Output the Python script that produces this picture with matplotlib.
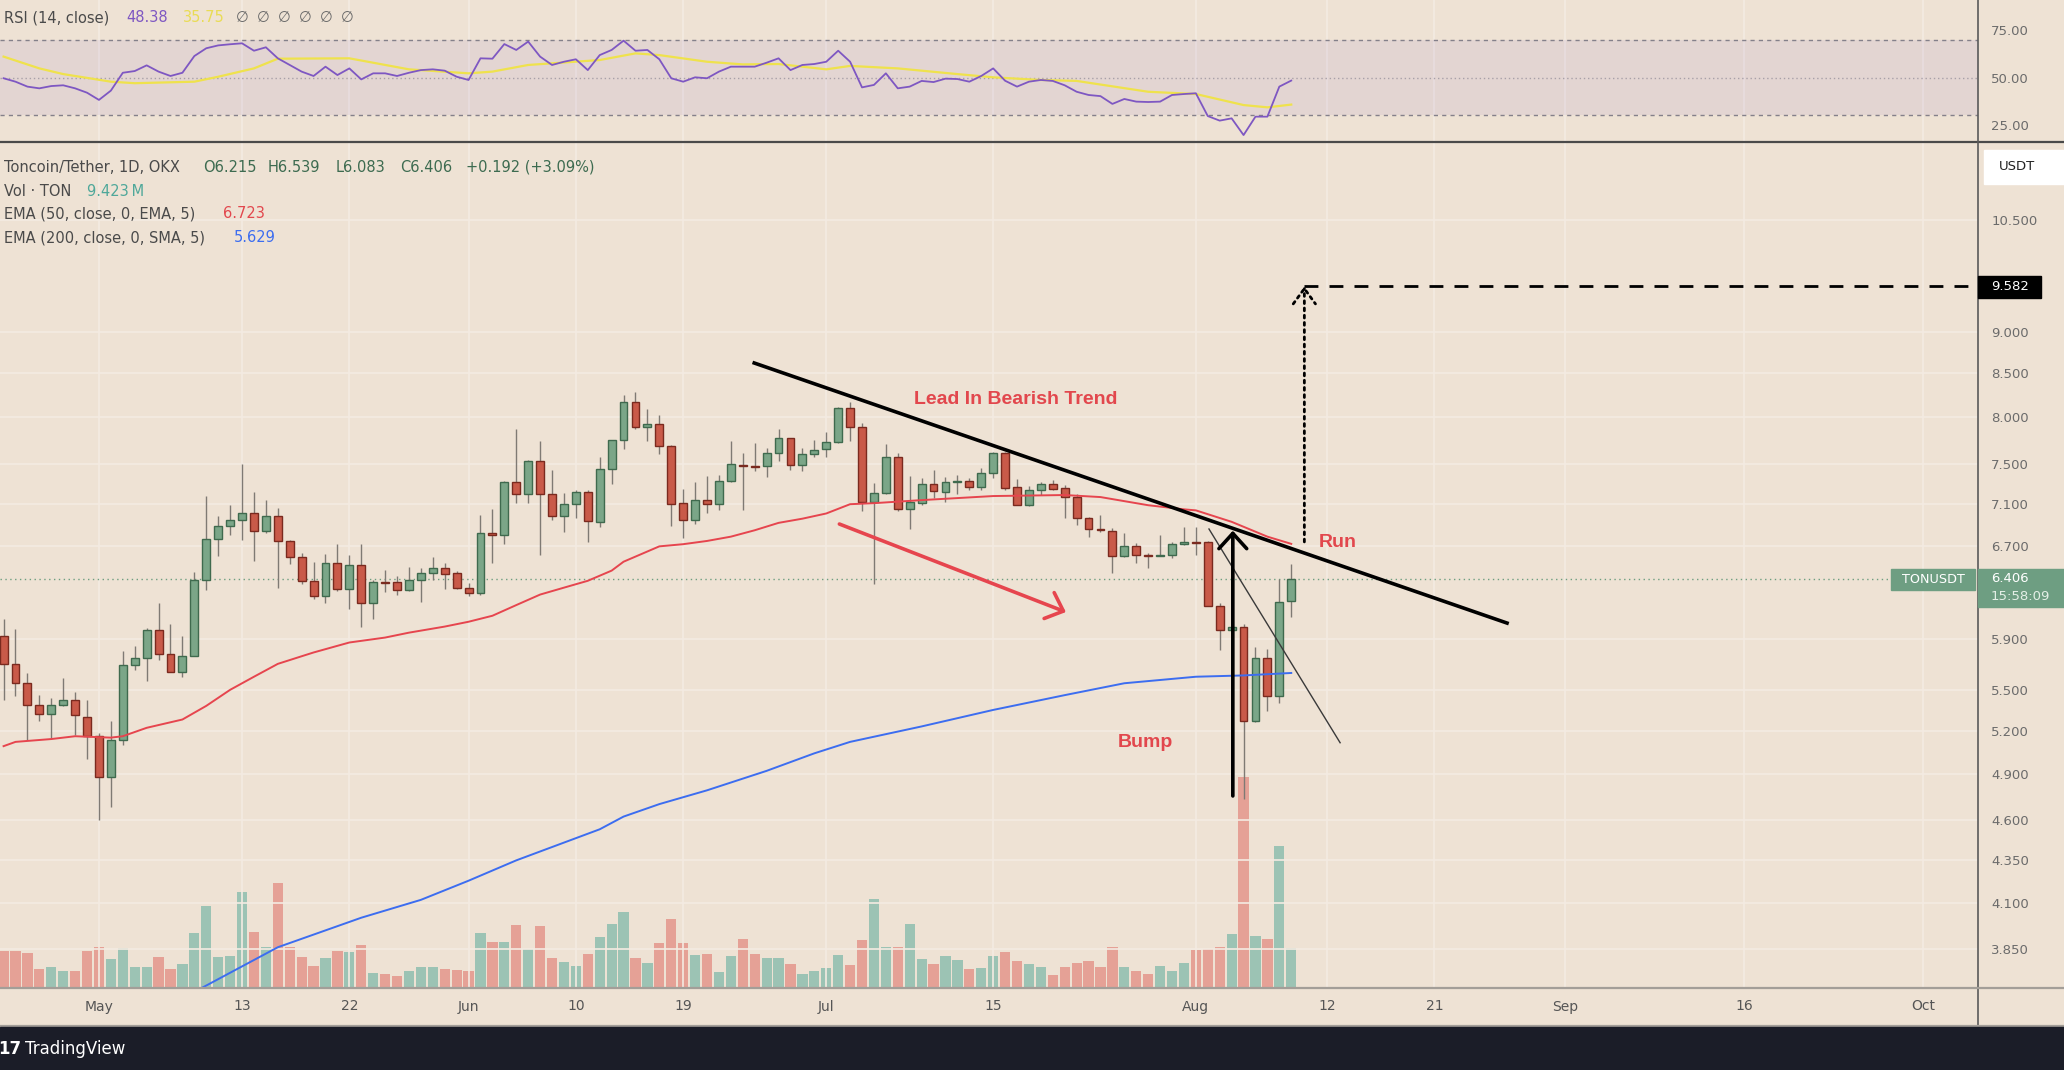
import numpy as np
import pandas as pd
import matplotlib
matplotlib.use("Agg")
import matplotlib.pyplot as plt
import matplotlib.dates as mdates
from matplotlib.patches import Rectangle
from matplotlib.lines import Line2D
from matplotlib.ticker import NullLocator

# ---------------- data ----------------
dates = pd.date_range("2024-04-23", periods=109, freq="D")

opens = [5.92, 5.70, 5.55, 5.39, 5.32, 5.39, 5.42, 5.30, 5.16, 4.88,
         5.13, 5.69, 5.75, 5.97, 5.78, 5.64, 5.76, 6.40, 6.77, 6.89,
         6.95, 7.01, 6.84, 6.99, 6.75, 6.60, 6.39, 6.26, 6.55, 6.32,
         6.53, 6.20, 6.38, 6.38, 6.31, 6.40, 6.46, 6.50, 6.46, 6.33,
         6.28, 6.82, 6.81, 7.32, 7.20, 7.53, 7.20, 6.99, 7.10, 7.22,
         6.93, 7.45, 7.76, 8.17, 7.90, 7.93, 7.69, 7.11, 6.95, 7.14,
         7.10, 7.33, 7.49, 7.48, 7.48, 7.62, 7.78, 7.49, 7.61, 7.66,
         7.73, 8.11, 7.90, 7.12, 7.21, 7.58, 7.05, 7.11, 7.30, 7.22,
         7.32, 7.33, 7.27, 7.41, 7.62, 7.27, 7.09, 7.24, 7.30, 7.26,
         7.17, 6.97, 6.86, 6.84, 6.61, 6.70, 6.62, 6.61, 6.62, 6.72,
         6.74, 6.74, 6.17, 5.97, 6.00, 5.27, 5.75, 5.45, 6.215]
highs = [6.06, 5.98, 5.63, 5.46, 5.44, 5.59, 5.48, 5.42, 5.18, 5.27,
         5.80, 5.84, 5.99, 6.20, 6.02, 5.92, 6.47, 7.18, 6.99, 7.09,
         7.50, 7.22, 7.14, 7.06, 6.76, 6.64, 6.56, 6.63, 6.72, 6.62,
         6.72, 6.40, 6.49, 6.43, 6.51, 6.50, 6.60, 6.55, 6.48, 6.37,
         7.00, 7.05, 7.33, 7.87, 7.55, 7.75, 7.44, 7.21, 7.24, 7.24,
         7.58, 7.76, 8.25, 8.28, 8.09, 8.03, 7.70, 7.25, 7.32, 7.38,
         7.39, 7.75, 7.62, 7.72, 7.67, 7.87, 7.78, 7.67, 7.76, 7.84,
         8.12, 8.17, 7.94, 7.31, 7.71, 7.62, 7.38, 7.36, 7.44, 7.37,
         7.39, 7.36, 7.46, 7.63, 7.63, 7.35, 7.28, 7.32, 7.34, 7.29,
         7.20, 6.98, 7.00, 6.87, 6.82, 6.73, 6.64, 6.81, 6.74, 6.88,
         6.88, 6.75, 6.20, 6.20, 6.02, 5.83, 5.82, 6.41, 6.539]
lows = [5.42, 5.45, 5.13, 5.27, 5.15, 5.38, 5.17, 5.00, 4.60, 4.68,
        5.10, 5.65, 5.57, 5.73, 5.64, 5.60, 5.76, 6.31, 6.61, 6.81,
        6.76, 6.57, 6.82, 6.33, 6.54, 6.36, 6.23, 6.20, 6.30, 6.15,
        6.00, 6.06, 6.29, 6.27, 6.30, 6.21, 6.40, 6.32, 6.32, 6.26,
        6.27, 6.55, 6.72, 7.11, 7.11, 6.62, 6.95, 6.83, 6.97, 6.74,
        6.88, 7.30, 7.66, 7.87, 7.74, 7.61, 6.89, 6.78, 6.91, 7.01,
        7.04, 7.32, 7.04, 7.43, 7.37, 7.53, 7.44, 7.43, 7.58, 7.58,
        7.72, 7.75, 7.03, 6.36, 7.20, 7.03, 6.86, 7.09, 7.16, 7.12,
        7.20, 7.24, 7.24, 7.36, 7.24, 7.09, 7.08, 7.19, 7.24, 6.97,
        6.90, 6.79, 6.83, 6.46, 6.60, 6.55, 6.50, 6.61, 6.59, 6.71,
        6.62, 6.17, 5.81, 5.76, 4.73, 5.26, 5.34, 5.40, 6.083]
closes = [5.70, 5.55, 5.39, 5.32, 5.39, 5.42, 5.31, 5.16, 4.88, 5.13,
          5.69, 5.75, 5.97, 5.78, 5.64, 5.76, 6.40, 6.77, 6.89, 6.95,
          7.01, 6.84, 6.99, 6.75, 6.60, 6.39, 6.26, 6.55, 6.32, 6.53,
          6.20, 6.38, 6.37, 6.31, 6.40, 6.46, 6.50, 6.45, 6.33, 6.28,
          6.82, 6.81, 7.32, 7.20, 7.53, 7.20, 6.99, 7.10, 7.22, 6.94,
          7.45, 7.76, 8.17, 7.90, 7.93, 7.69, 7.10, 6.95, 7.14, 7.10,
          7.33, 7.50, 7.48, 7.47, 7.62, 7.78, 7.49, 7.61, 7.65, 7.73,
          8.11, 7.90, 7.12, 7.21, 7.58, 7.05, 7.12, 7.30, 7.23, 7.32,
          7.33, 7.27, 7.41, 7.62, 7.26, 7.09, 7.24, 7.30, 7.25, 7.17,
          6.97, 6.86, 6.85, 6.61, 6.70, 6.62, 6.61, 6.62, 6.72, 6.74,
          6.73, 6.17, 5.97, 6.00, 5.27, 5.75, 5.45, 6.21, 6.406]
volumes = [8.78, 8.78, 8.30, 4.43, 4.91, 3.79, 3.79, 8.78, 9.75, 6.85,
           9.42, 4.75, 4.75, 7.17, 4.43, 5.64, 12.97, 19.49, 7.33, 7.57,
           23.03, 13.37, 9.58, 25.13, 9.58, 7.17, 5.15, 7.01, 8.78, 8.54,
           10.23, 3.46, 3.06, 2.74, 3.95, 4.75, 4.91, 4.43, 4.19, 3.79,
           12.97, 10.79, 10.95, 15.06, 9.26, 14.82, 7.01, 6.12, 5.15, 7.89,
           12.16, 15.22, 18.20, 7.01, 5.88, 10.55, 16.51, 10.71, 7.81, 7.97,
           3.62, 7.57, 11.68, 8.05, 7.01, 7.01, 5.56, 3.22, 3.95, 4.59,
           7.81, 5.40, 11.44, 21.34, 9.75, 9.75, 15.22, 6.85, 5.64, 7.57,
           6.60, 4.43, 4.59, 7.57, 8.54, 6.36, 5.48, 4.75, 2.90, 4.91,
           5.88, 6.36, 4.91, 9.66, 4.75, 3.79, 3.06, 5.15, 3.95, 5.88,
           8.86, 9.26, 9.75, 12.73, 50.7, 12.40, 11.68, 34.1, 9.423]
rsi = [49.6, 47.8, 45.2, 44.3, 45.5, 45.9, 44.3, 42.0, 38.2, 43.1,
       52.5, 53.4, 56.4, 53.1, 50.8, 52.5, 61.3, 65.4, 66.9, 67.5,
       68.0, 64.1, 65.9, 60.1, 56.6, 53.1, 50.8, 55.7, 51.3, 54.8,
       49.0, 52.2, 52.2, 50.8, 52.5, 53.9, 54.3, 53.6, 50.4, 48.7,
       60.1, 59.9, 67.6, 64.5, 68.9, 61.0, 56.6, 58.3, 59.6, 53.9,
       61.8, 64.5, 69.4, 64.1, 64.5, 59.6, 49.6, 47.8, 50.1, 49.6,
       53.1, 55.7, 55.7, 55.7, 57.8, 60.1, 53.9, 56.6, 57.1, 58.3,
       64.1, 58.3, 44.8, 46.1, 52.2, 44.3, 45.2, 48.2, 47.6, 49.4,
       49.2, 47.8, 50.8, 54.8, 48.3, 45.2, 47.8, 48.7, 48.2, 45.9,
       42.5, 40.8, 40.2, 36.1, 38.7, 37.3, 37.1, 37.3, 40.8, 41.3,
       41.7, 29.7, 27.3, 28.5, 19.7, 29.4, 29.4, 45.2, 48.38]
rsi_sma_day = [0, 3, 5, 9, 11, 16, 18, 21, 23, 29, 34, 39, 41, 44, 50, 53,
               55, 59, 62, 65, 69, 71, 75, 80, 83, 87, 90, 96, 100, 104, 106, 108]
rsi_sma = [61.0, 54.8, 51.8, 47.8, 47.0, 47.8, 50.4, 54.8, 59.9, 60.1, 54.3,
           52.2, 53.1, 56.6, 59.2, 62.7, 61.8, 58.3, 56.9, 57.1, 54.3, 56.1,
           54.8, 51.8, 50.1, 48.7, 48.2, 42.5, 41.3, 35.5, 34.3, 35.75]
ema50_day = [0, 1, 4, 6, 9, 10, 12, 15, 17, 19, 21, 23, 25, 26, 29, 32, 34, 37,
             39, 41, 43, 45, 47, 49, 51, 52, 55, 57, 59, 61, 63, 65, 67, 69, 71,
             73, 77, 83, 89, 92, 96, 99, 100, 103, 106, 108]
ema50 = [5.09, 5.12, 5.14, 5.16, 5.15, 5.16, 5.22, 5.28, 5.38, 5.50, 5.60,
         5.70, 5.76, 5.79, 5.87, 5.91, 5.95, 6.00, 6.04, 6.09, 6.18, 6.27,
         6.33, 6.39, 6.48, 6.56, 6.70, 6.72, 6.75, 6.79, 6.85, 6.92, 6.96,
         7.01, 7.10, 7.11, 7.14, 7.18, 7.19, 7.17, 7.09, 7.05, 7.04, 6.93,
         6.79, 6.723]
ema200_day = [16, 23, 30, 35, 39, 43, 50, 52, 55, 59, 64, 68, 71, 77, 83, 89,
              94, 100, 104, 108]
ema200 = [3.63, 3.86, 4.02, 4.12, 4.23, 4.35, 4.54, 4.62, 4.70, 4.79, 4.92,
          5.04, 5.12, 5.23, 5.35, 5.46, 5.55, 5.60, 5.61, 5.629]

price_ticks = [10.5, 9.0, 8.5, 8.0, 7.5, 7.1, 6.7, 5.9, 5.5, 5.2, 4.9, 4.6, 4.35, 4.1, 3.85]
price_labels = ["10.500", "9.000", "8.500", "8.000", "7.500", "7.100", "6.700", "5.900",
                "5.500", "5.200", "4.900", "4.600", "4.350", "4.100", "3.850"]
rsi_ticks = [75, 50, 25]
rsi_labels = ["75.00", "50.00", "25.00"]
date_ticks = ["2024-05-01", "2024-05-13", "2024-05-22", "2024-06-01", "2024-06-10",
              "2024-06-19", "2024-07-01", "2024-07-15", "2024-08-01", "2024-08-12",
              "2024-08-21", "2024-09-01", "2024-09-16", "2024-10-01"]
date_labels = ["May", "13", "22", "Jun", "10", "19", "Jul", "15", "Aug", "12", "21",
               "Sep", "16", "Oct"]
target_price = 9.582

# ---------------- style ----------------
W, H = 2064, 1070
BG = "#EEE2D4"
GRID = "#F4EBE2"
G_BODY, G_EDGE = "#7BA688", "#3F6A4E"
R_BODY, R_EDGE = "#C95A49", "#7A2A1F"
V_UP, V_DN = "#9CC3B4", "#E5A196"
RED_TXT = "#E2474D"
AXCOL = "#6B6B6B"

fig = plt.figure(figsize=(W / 100, H / 100), dpi=100, facecolor=BG)
AXW = 1978 / W
rsi_ax = fig.add_axes([0, 1 - 142 / H, AXW, 142 / H])
vol_ax = fig.add_axes([0, 83 / H, AXW, 845 / H])
ax = fig.add_axes([0, 83 / H, AXW, 845 / H], sharex=vol_ax)

xs = mdates.date2num(dates)
x0 = xs[0]
xlim = (x0 - 0.30, x0 + 165.6)
o = np.array(opens); h = np.array(highs); l = np.array(lows); c = np.array(closes)
up = c >= o

# volume
vol_ax.set_facecolor(BG)
vol_ax.bar(xs, volumes, width=0.86, color=np.where(up, V_UP, V_DN), zorder=2)
vol_ax.set_ylim(0, 204.2)
vol_ax.set_yticks([])
vol_ax.tick_params(axis="x", labelbottom=False, length=0)
for s in vol_ax.spines.values():
    s.set_visible(False)

# price pane
ax.patch.set_visible(False)
ax.set_yscale("log")
ax.set_ylim(3.6546, 11.685)
ax.set_xlim(*xlim)
for s in ax.spines.values():
    s.set_visible(False)
ax.yaxis.tick_right()
ax.set_yticks(price_ticks)
ax.set_yticklabels(price_labels)
ax.yaxis.set_minor_locator(NullLocator())
ax.tick_params(axis="y", length=0, pad=9.5, labelsize=9.5, labelcolor=AXCOL)
ax.set_xticks(mdates.date2num(pd.to_datetime(date_ticks)))
ax.set_xticklabels(date_labels)
ax.tick_params(axis="x", length=0, pad=9, labelsize=10, labelcolor="#555555")
ax.grid(axis="y", color=GRID, lw=1.2, zorder=0)
ax.grid(axis="x", color=GRID, lw=1.2, zorder=0)
ax.set_axisbelow(True)

ax.vlines(xs, l, h, color="#7F7A74", lw=1.0, zorder=2)
ax.bar(xs, np.maximum(np.abs(c - o), 0.008), bottom=np.minimum(o, c), width=0.66,
       color=np.where(up, G_BODY, R_BODY), edgecolor=np.where(up, G_EDGE, R_EDGE),
       linewidth=1.0, zorder=3)
ax.plot(x0 + np.array(ema50_day), ema50, color="#E6454E", lw=1.4, zorder=4)
ax.plot(x0 + np.array(ema200_day), ema200, color="#3C6DF0", lw=1.4, zorder=4)
ax.axhline(c[-1], color="#6E9E80", lw=1.0, ls=(0, (1, 2.5)), zorder=1)

# drawings
ax.plot([x0 + 62.96, x0 + 126.1], [8.622, 6.029], color="black", lw=2.6, zorder=6)
ax.plot([x0 + 101.1, x0 + 112.1], [6.862, 5.114], color="#3a3a3a", lw=1.0, zorder=6)
ax.annotate("", xy=(x0 + 89.1, 6.121), xytext=(x0 + 70.1, 6.909),
            arrowprops=dict(arrowstyle="->,head_length=0.55,head_width=0.5", color="#E6454E",
                            lw=2.6, mutation_scale=20, shrinkA=0, shrinkB=0), zorder=6)
ax.annotate("", xy=(x0 + 103.1, 6.846), xytext=(x0 + 103.1, 4.753),
            arrowprops=dict(arrowstyle="->,head_length=0.55,head_width=0.5", color="black",
                            lw=2.6, mutation_scale=20, shrinkA=0, shrinkB=0), zorder=6)
ax.annotate("", xy=(x0 + 109.1, target_price), xytext=(x0 + 109.1, 6.741),
            arrowprops=dict(arrowstyle="->,head_length=0.55,head_width=0.4", color="black",
                            lw=2.0, ls=(0, (1, 1.6)), mutation_scale=20, shrinkA=0, shrinkB=0),
            zorder=6)
ax.hlines(target_price, x0 + 109.1, xlim[1], colors="black", lw=2.0,
          linestyles=(0, (5, 4)), zorder=6)
ax.text(x0 + 84.9, 8.152, "Lead In Bearish Trend", ha="center", va="baseline",
        color=RED_TXT, fontsize=14, fontweight="bold", family="Liberation Sans", zorder=7)
ax.text(x0 + 95.76, 5.086, "Bump", ha="center", va="baseline",
        color=RED_TXT, fontsize=14, fontweight="bold", family="Liberation Sans", zorder=7)
ax.text(x0 + 111.9, 6.697, "Run", ha="center", va="baseline",
        color=RED_TXT, fontsize=14, fontweight="bold", family="Liberation Sans", zorder=7)

# RSI pane
rsi_ax.set_facecolor(BG)
rsi_ax.set_xlim(*xlim)
rsi_ax.set_ylim(16.05, 90.8)
for s in rsi_ax.spines.values():
    s.set_visible(False)
rsi_ax.axhspan(30, 70, color="#7E57C2", alpha=0.09, lw=0, zorder=1)
rsi_ax.axhline(70, color="#84808A", lw=1.0, ls=(0, (3, 3)), zorder=2)
rsi_ax.axhline(30, color="#84808A", lw=1.0, ls=(0, (3, 3)), zorder=2)
rsi_ax.axhline(50, color="#A8A0A8", lw=1.0, ls=(0, (1, 2)), zorder=2)
rsi_ax.set_xticks(mdates.date2num(pd.to_datetime(date_ticks)))
rsi_ax.tick_params(axis="x", labelbottom=False, length=0)
rsi_ax.grid(axis="x", color=GRID, lw=1.2, zorder=0)
rsi_ax.set_axisbelow(True)
rsi_ax.yaxis.tick_right()
rsi_ax.set_yticks(rsi_ticks)
rsi_ax.set_yticklabels(rsi_labels)
rsi_ax.tick_params(axis="y", length=0, pad=9.5, labelsize=9.5, labelcolor=AXCOL)
rsi_ax.plot(x0 + np.array(rsi_sma_day), rsi_sma, color="#EFE24C", lw=1.6, zorder=3)
rsi_ax.plot(xs, rsi, color="#7E57C2", lw=1.3, zorder=4)

# ---------------- frame lines & boxes ----------------
def fx(px):
    return px / W

def fy(py):
    return 1 - py / H

fig.add_artist(Line2D([0, 1], [fy(142), fy(142)], color="#4A4A4A", lw=1.6))
fig.add_artist(Line2D([fx(1978), fx(1978)], [fy(0), fy(1026)], color="#5A5A5A", lw=1.2))
fig.add_artist(Line2D([0, 1], [fy(987.5), fy(987.5)], color="#A39E98", lw=1.6))
fig.add_artist(Line2D([0, 1], [fy(1025.5), fy(1025.5)], color="#A39E98", lw=1.6))
fig.add_artist(Rectangle((0, 0), 1, 43 / H, transform=fig.transFigure, color="#1B1D28", zorder=5))
fig.text(fx(-2), fy(1049), "17", color="white", fontsize=12, fontweight="bold",
         va="center", ha="left", zorder=6)
fig.text(fx(25), fy(1049), "TradingView", color="white", fontsize=12, va="center",
         ha="left", zorder=6)

# price-scale boxes
fig.add_artist(Rectangle((fx(1984), fy(184)), fx(90), 34 / H, transform=fig.transFigure,
                         color="white", zorder=5))
fig.text(fx(2017), fy(167), "USDT", color="#222222", fontsize=9.5, ha="center",
         va="center", zorder=6)
fig.add_artist(Rectangle((fx(1978), fy(298)), fx(63), 22 / H, transform=fig.transFigure,
                         color="black", zorder=5))
fig.text(fx(1991), fy(287), "9.582", color="white", fontsize=9.5, ha="left",
         va="center", zorder=6)
fig.add_artist(Rectangle((fx(1978), fy(607)), fx(86), 38 / H, transform=fig.transFigure,
                         color="#6E9E82", zorder=5))
fig.text(fx(1991), fy(579), "6.406", color="white", fontsize=9.5, ha="left",
         va="center", zorder=6)
fig.text(fx(1991), fy(597), "15:58:09", color="#E4EFE6", fontsize=9.5, ha="left",
         va="center", zorder=6)
fig.add_artist(Rectangle((fx(1891), fy(590)), fx(84), 21 / H, transform=fig.transFigure,
                         color="#6E9E82", zorder=5))
fig.text(fx(1933), fy(579.5), "TONUSDT", color="white", fontsize=9.2, ha="center",
         va="center", zorder=6)

# ---------------- legends ----------------
LG = "#4A4A4A"
FS = 10.5
def put(x, y, s, col):
    fig.text(fx(x), fy(y), s, color=col, fontsize=FS, ha="left", va="center", zorder=6)

put(4.5, 18, "RSI (14, close)", LG)
put(126, 18, "48.38", "#7E57C2")
put(183, 18, "35.75", "#E9DC55")
for i, xx in enumerate([236, 257, 278, 299, 320, 341]):
    put(xx, 18, "\u2205", "#6A6A6A")

GREEN_TXT = "#3D6B50"
put(4.5, 167, "Toncoin/Tether, 1D, OKX", LG)
put(203, 167, "O6.215", GREEN_TXT)
put(268, 167, "H6.539", GREEN_TXT)
put(336, 167, "L6.083", GREEN_TXT)
put(400, 167, "C6.406", GREEN_TXT)
put(466, 167, "+0.192 (+3.09%)", GREEN_TXT)
put(4.5, 191, "Vol \u00b7 TON", LG)
put(87, 191, "9.423\u2009M", "#4FA89A")
put(4.5, 214, "EMA (50, close, 0, EMA, 5)", LG)
put(223, 214, "6.723", "#E2474D")
put(4.5, 238, "EMA (200, close, 0, SMA, 5)", LG)
put(234, 238, "5.629", "#3C6DF0")

fig.savefig("out.png", dpi=100, facecolor=BG)
